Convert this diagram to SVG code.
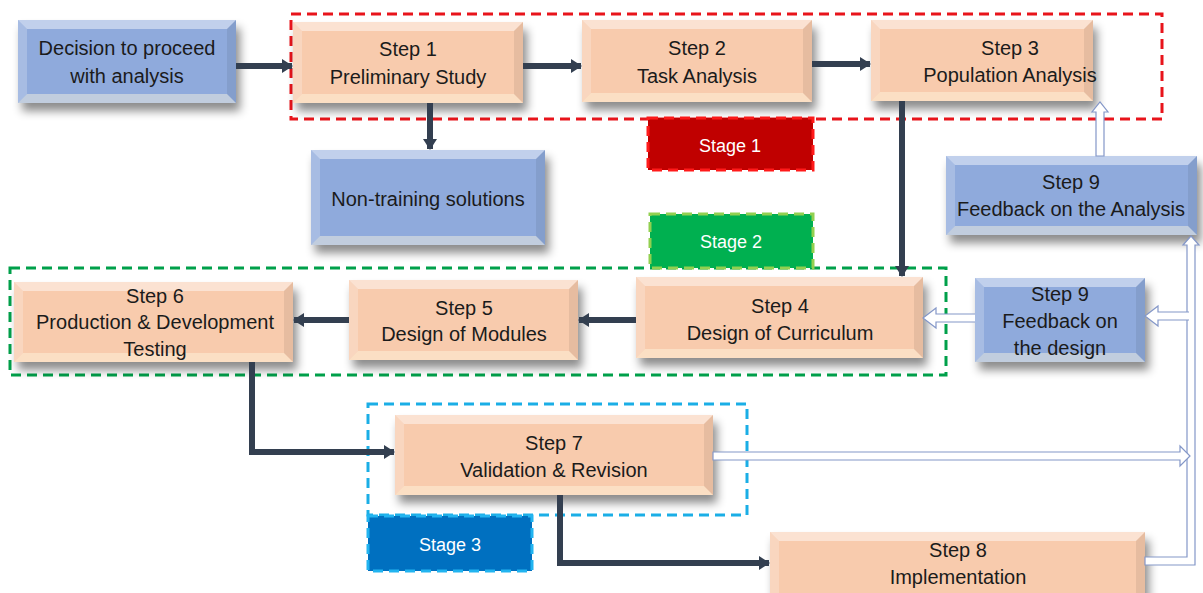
<svg xmlns="http://www.w3.org/2000/svg" width="1203" height="593" viewBox="0 0 1203 593">
<defs>
<style>
.t{font-family:"Liberation Sans",Arial,sans-serif;font-size:20px;fill:#1b1b1b;text-anchor:middle}
.st{font-family:"Liberation Sans",Arial,sans-serif;font-size:18px;fill:#ffffff;text-anchor:middle}
.peach{fill:#F8CBAD}
.blue{fill:#8FAADC}
.bt{fill:#ffffff;opacity:.45}
.bb{fill:#fff8e0;opacity:.45}
.bl{fill:#ffffff;opacity:.22}
.br{fill:#000000;opacity:.07}
.dark{fill:none;stroke:#333F50;stroke-width:6}
.hollow{fill:#ffffff;stroke:#8497C8;stroke-width:1.2}
.grp{fill:none;stroke-width:3;stroke-dasharray:10 6}
</style>
<filter id="sh" x="-10%" y="-20%" width="125%" height="160%">
<feDropShadow dx="4" dy="8" stdDeviation="5" flood-color="#000" flood-opacity="0.45"/>
</filter>
<marker id="ah" markerUnits="userSpaceOnUse" markerWidth="12" markerHeight="14" refX="10" refY="7" orient="auto">
<path d="M0,0 L11,7 L0,14 Z" fill="#333F50"/>
</marker>
</defs>

<g id="groups">
<rect class="grp" x="291" y="14" width="871" height="105" stroke="#E8141B"/>
<rect class="grp" x="10" y="268" width="936" height="107" stroke="#00A04A"/>
<rect class="grp" x="368" y="404" width="379" height="111" stroke="#1AAEE6"/>
</g>

<g id="stage1">
<rect x="648" y="118" width="165" height="52" fill="#C00000" stroke="#FF1A1A" stroke-width="3" stroke-dasharray="10 6"/>
<text class="st" x="730" y="152">Stage 1</text>
</g>
<g id="stage2">
<rect x="650" y="214" width="163" height="54" fill="#00B050" stroke="#92D050" stroke-width="3" stroke-dasharray="10 6"/>
<text class="st" x="731" y="248">Stage 2</text>
</g>
<g id="stage3">
<rect x="368" y="516" width="164" height="55" fill="#0070C0" stroke="#22B4F0" stroke-width="3" stroke-dasharray="10 6"/>
<text class="st" x="450" y="551">Stage 3</text>
</g>

<g id="decision">
<rect class="blue" x="18" y="20" width="218" height="83" filter="url(#sh)"/>
<path class="bt" d="M18,20 H236 L227,29 H27 Z"/>
<path class="bb" d="M18,103 H236 L227,94 H27 Z"/>
<path class="bl" d="M18,20 V103 L27,94 V29 Z"/>
<path class="br" d="M236,20 V103 L227,94 V29 Z"/>
<text class="t" x="127" y="55">Decision to proceed</text>
<text class="t" x="127" y="83">with analysis</text>
</g>

<g id="step1">
<rect class="peach" x="293" y="22" width="230" height="81" filter="url(#sh)"/>
<path class="bt" d="M293,22 H523 L514,31 H302 Z"/>
<path class="bb" d="M293,103 H523 L514,94 H302 Z"/>
<path class="bl" d="M293,22 V103 L302,94 V31 Z"/>
<path class="br" d="M523,22 V103 L514,94 V31 Z"/>
<text class="t" x="408" y="56">Step 1</text>
<text class="t" x="408" y="84">Preliminary Study</text>
</g>

<g id="step2">
<rect class="peach" x="582" y="20" width="230" height="82" filter="url(#sh)"/>
<path class="bt" d="M582,20 H812 L803,29 H591 Z"/>
<path class="bb" d="M582,102 H812 L803,93 H591 Z"/>
<path class="bl" d="M582,20 V102 L591,93 V29 Z"/>
<path class="br" d="M812,20 V102 L803,93 V29 Z"/>
<text class="t" x="697" y="55">Step 2</text>
<text class="t" x="697" y="83">Task Analysis</text>
</g>

<g id="step3">
<rect class="peach" x="871" y="20" width="222" height="81" filter="url(#sh)"/>
<path class="bt" d="M871,20 H1093 L1084,29 H880 Z"/>
<path class="bb" d="M871,101 H1093 L1084,92 H880 Z"/>
<path class="bl" d="M871,20 V101 L880,92 V29 Z"/>
<path class="br" d="M1093,20 V101 L1084,92 V29 Z"/>
<text class="t" x="1010" y="55">Step 3</text>
<text class="t" x="1010" y="82">Population Analysis</text>
</g>

<g id="nontraining">
<rect class="blue" x="311" y="150" width="234" height="95" filter="url(#sh)"/>
<path class="bt" d="M311,150 H545 L536,159 H320 Z"/>
<path class="bb" d="M311,245 H545 L536,236 H320 Z"/>
<path class="bl" d="M311,150 V245 L320,236 V159 Z"/>
<path class="br" d="M545,150 V245 L536,236 V159 Z"/>
<text class="t" x="428" y="206">Non-training solutions</text>
</g>

<g id="step9a">
<rect class="blue" x="946" y="156" width="251" height="79" filter="url(#sh)"/>
<path class="bt" d="M946,156 H1197 L1188,165 H955 Z"/>
<path class="bb" d="M946,235 H1197 L1188,226 H955 Z"/>
<path class="bl" d="M946,156 V235 L955,226 V165 Z"/>
<path class="br" d="M1197,156 V235 L1188,226 V165 Z"/>
<text class="t" x="1071" y="189">Step 9</text>
<text class="t" x="1071" y="216">Feedback on the Analysis</text>
</g>

<g id="step6">
<rect class="peach" x="14" y="282" width="279" height="80" filter="url(#sh)"/>
<path class="bt" d="M14,282 H293 L284,291 H23 Z"/>
<path class="bb" d="M14,362 H293 L284,353 H23 Z"/>
<path class="bl" d="M14,282 V362 L23,353 V291 Z"/>
<path class="br" d="M293,282 V362 L284,353 V291 Z"/>
<text class="t" x="155" y="303">Step 6</text>
<text class="t" x="155" y="329">Production &amp; Development</text>
<text class="t" x="155" y="356">Testing</text>
</g>

<g id="step5">
<rect class="peach" x="349" y="280" width="229" height="80" filter="url(#sh)"/>
<path class="bt" d="M349,280 H578 L569,289 H358 Z"/>
<path class="bb" d="M349,360 H578 L569,351 H358 Z"/>
<path class="bl" d="M349,280 V360 L358,351 V289 Z"/>
<path class="br" d="M578,280 V360 L569,351 V289 Z"/>
<text class="t" x="464" y="315">Step 5</text>
<text class="t" x="464" y="341">Design of Modules</text>
</g>

<g id="step4">
<rect class="peach" x="636" y="277" width="287" height="81" filter="url(#sh)"/>
<path class="bt" d="M636,277 H923 L914,286 H645 Z"/>
<path class="bb" d="M636,358 H923 L914,349 H645 Z"/>
<path class="bl" d="M636,277 V358 L645,349 V286 Z"/>
<path class="br" d="M923,277 V358 L914,349 V286 Z"/>
<text class="t" x="780" y="313">Step 4</text>
<text class="t" x="780" y="340">Design of Curriculum</text>
</g>

<g id="step9d">
<rect class="blue" x="975" y="278" width="170" height="84" filter="url(#sh)"/>
<path class="bt" d="M975,278 H1145 L1136,287 H984 Z"/>
<path class="bb" d="M975,362 H1145 L1136,353 H984 Z"/>
<path class="bl" d="M975,278 V362 L984,353 V287 Z"/>
<path class="br" d="M1145,278 V362 L1136,353 V287 Z"/>
<text class="t" x="1060" y="301">Step 9</text>
<text class="t" x="1060" y="328">Feedback on</text>
<text class="t" x="1060" y="355">the design</text>
</g>

<g id="step7">
<rect class="peach" x="395" y="415" width="318" height="80" filter="url(#sh)"/>
<path class="bt" d="M395,415 H713 L704,424 H404 Z"/>
<path class="bb" d="M395,495 H713 L704,486 H404 Z"/>
<path class="bl" d="M395,415 V495 L404,486 V424 Z"/>
<path class="br" d="M713,415 V495 L704,486 V424 Z"/>
<text class="t" x="554" y="450">Step 7</text>
<text class="t" x="554" y="477">Validation &amp; Revision</text>
</g>

<g id="step8">
<rect class="peach" x="770" y="532" width="375" height="70" filter="url(#sh)"/>
<path class="bt" d="M770,532 H1145 L1136,541 H779 Z"/>
<path class="bl" d="M770,532 V602 L779,593 V541 Z"/>
<path class="br" d="M1145,532 V602 L1136,593 V541 Z"/>
<text class="t" x="958" y="557">Step 8</text>
<text class="t" x="958" y="584">Implementation</text>
</g>

<g id="connectors">
<line class="dark" x1="236" y1="66" x2="292" y2="66" marker-end="url(#ah)"/>
<line class="dark" x1="523" y1="66" x2="581" y2="66" marker-end="url(#ah)"/>
<line class="dark" x1="812" y1="64" x2="870" y2="64" marker-end="url(#ah)"/>
<line class="dark" x1="430" y1="103" x2="430" y2="149" marker-end="url(#ah)"/>
<line class="dark" x1="902" y1="101" x2="902" y2="276" marker-end="url(#ah)"/>
<line class="dark" x1="636" y1="320" x2="579" y2="320" marker-end="url(#ah)"/>
<line class="dark" x1="349" y1="320" x2="294" y2="320" marker-end="url(#ah)"/>
<path class="dark" d="M252,362 V452 H394" stroke-width="5" marker-end="url(#ah)"/>
<path class="dark" d="M560,495 V563 H769" stroke-width="5" marker-end="url(#ah)"/>
<path class="hollow" d="M1096,156 V112 H1092 L1100,102 L1108,112 H1104 V156 Z"/>
<path class="hollow" d="M1145,557 H1187 V245 H1183 L1191,236 L1199,245 H1195 V565 H1145 Z"/>
<path class="hollow" d="M713,452 H1180 V446 L1190,456 L1180,466 V460 H713 Z"/>
<path class="hollow" d="M1189,312 H1158 V306 L1145,316 L1158,326 V320 H1189"/>
<path class="hollow" d="M975,314 H936 V308 L923,318 L936,328 V322 H975"/>
</g>
</svg>
